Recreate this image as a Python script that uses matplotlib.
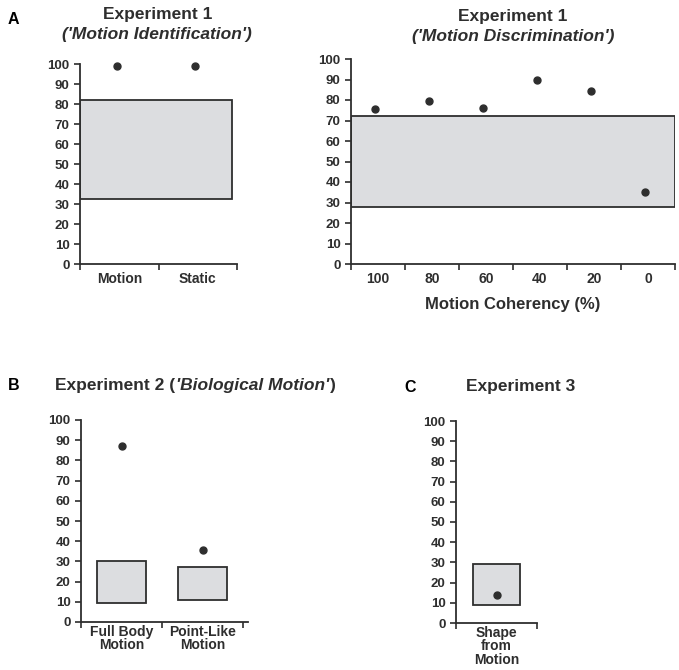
import numpy as np
import matplotlib.pyplot as plt

plt.rcParams['font.family'] = ['Liberation Sans', 'DejaVu Sans']
plt.rcParams['font.weight'] = 'bold'

# Experiment 1 - motion identification
a1_conditions = ['Motion', 'Static']
a1_scores = [99, 99]
a1_chance = [32.5, 82]

# Experiment 1 - motion discrimination
a2_coherence = ['100', '80', '60', '40', '20', '0']
a2_scores = [75.5, 79.5, 76, 90, 84.5, 35]
a2_chance = [28, 72]

# Experiment 2 - biological motion
b_conditions = ['Full Body\nMotion', 'Point-Like\nMotion']
b_scores = [87.3, 35.7]
b_low = [9.5, 11]
b_high = [30.3, 27]

# Experiment 3 - shape from motion
c_conditions = ['Shape\nfrom\nMotion']
c_scores = [14]
c_low = [9]
c_high = [29.3]

ink = '#2e2e2e'
fill = '#dcdde0'
W, H = 679, 670
title_fs = 12.5


def ax_at(x0, x1, ytop, ybot):
    return fig.add_axes([x0 / W, 1 - ybot / H, (x1 - x0) / W, (ybot - ytop) / H])


def style(ax, labels, xmax=None, pad=6):
    n = len(labels)
    ax.set_ylim(0, 100)
    ax.set_xlim(0, xmax if xmax else n)
    ax.set_yticks(np.arange(0, 101, 10))
    ax.set_xticks(np.arange(n + 1))
    ax.set_xticklabels([])
    ax.set_xticks(np.arange(n) + 0.5, minor=True)
    ax.set_xticklabels(labels, minor=True, fontsize=10, fontweight='bold',
                       color=ink, linespacing=0.95)
    ax.tick_params(axis='x', which='minor', length=0, pad=pad)
    ax.tick_params(axis='both', which='major', length=4, width=1.2, color=ink,
                   labelsize=9.5, labelcolor=ink, direction='out')
    for lab in ax.get_yticklabels():
        lab.set_fontweight('bold')
    for s in ['top', 'right']:
        ax.spines[s].set_visible(False)
    for s in ['left', 'bottom']:
        ax.spines[s].set_color(ink)
        ax.spines[s].set_linewidth(1.3)


fig = plt.figure(figsize=(W / 100, H / 100), dpi=100)

# Panel A left
ax1 = ax_at(80, 237, 64, 264)
ax1.bar(0.97, a1_chance[1] - a1_chance[0], width=1.94, bottom=a1_chance[0],
        color=fill, edgecolor=ink, linewidth=1.3, zorder=1)
ax1.plot(np.arange(len(a1_scores)) + 0.47, a1_scores, 'o', color=ink, ms=5,
         clip_on=False, zorder=3)
style(ax1, a1_conditions)
fig.text(158 / W, 1 - 14 / H, 'Experiment 1', ha='center', va='center',
         fontsize=title_fs, fontweight='bold', color=ink)
fig.text(157 / W, 1 - 35 / H, "('Motion Identification')", ha='center',
         va='center', fontsize=title_fs, fontweight='bold', style='italic',
         color=ink)

# Panel A right
ax2 = ax_at(351, 675, 59, 264)
ax2.bar(3, a2_chance[1] - a2_chance[0], width=6, bottom=a2_chance[0],
        color=fill, edgecolor=ink, linewidth=1.3, zorder=1)
ax2.plot(np.arange(len(a2_scores)) + 0.45, a2_scores, 'o', color=ink, ms=5,
         zorder=3)
style(ax2, a2_coherence)
ax2.set_xlabel('Motion Coherency (%)', fontsize=12, fontweight='bold',
               color=ink, labelpad=8)
fig.text(513 / W, 1 - 17 / H, 'Experiment 1', ha='center', va='center',
         fontsize=title_fs, fontweight='bold', color=ink)
fig.text(513 / W, 1 - 36 / H, "('Motion Discrimination')", ha='center',
         va='center', fontsize=title_fs, fontweight='bold', style='italic',
         color=ink)

# Panel B
ax3 = ax_at(81, 248, 420, 622)
xb = np.arange(len(b_scores)) + 0.5
ax3.bar(xb, np.array(b_high) - np.array(b_low), width=0.6, bottom=b_low,
        color=fill, edgecolor=ink, linewidth=1.3, zorder=1)
ax3.plot(xb, b_scores, 'o', color=ink, ms=5, zorder=3)
style(ax3, b_conditions, xmax=2.06, pad=2)
yb = 1 - 390 / H
t1 = fig.text(55 / W, yb, 'Experiment 2 (', ha='left', va='baseline',
              fontsize=title_fs, fontweight='bold', color=ink)
t2 = fig.text(0, yb, "'Biological Motion'", ha='left', va='baseline',
              fontsize=title_fs, fontweight='bold', style='italic', color=ink)
t3 = fig.text(0, yb, ")", ha='left', va='baseline', fontsize=title_fs,
              fontweight='bold', color=ink)
fig.canvas.draw()
r = fig.canvas.get_renderer()
ex1 = t1.get_window_extent(r)
t2.set_position(((ex1.x1 + 1) / W, yb))
fig.canvas.draw()
ex2 = t2.get_window_extent(r)
t3.set_position(((ex2.x1 + 1) / W, yb))

# Panel C
ax4 = ax_at(456, 537, 421, 623)
xc = np.arange(len(c_scores)) + 0.5
ax4.bar(xc, np.array(c_high) - np.array(c_low), width=0.59, bottom=c_low,
        color=fill, edgecolor=ink, linewidth=1.3, zorder=1)
ax4.plot(xc, c_scores, 'o', color=ink, ms=5, zorder=3)
style(ax4, c_conditions, pad=2)
fig.text(521 / W, 1 - 387 / H, 'Experiment 3', ha='center', va='center',
         fontsize=title_fs, fontweight='bold', color=ink)

# panel letters
for lab, x, y in [('A', 8, 20), ('B', 8, 386), ('C', 404, 387)]:
    fig.text(x / W, 1 - y / H, lab, ha='left', va='center', fontsize=11.5,
             fontweight='bold', color='black')

fig.savefig('out.png', dpi=100)
